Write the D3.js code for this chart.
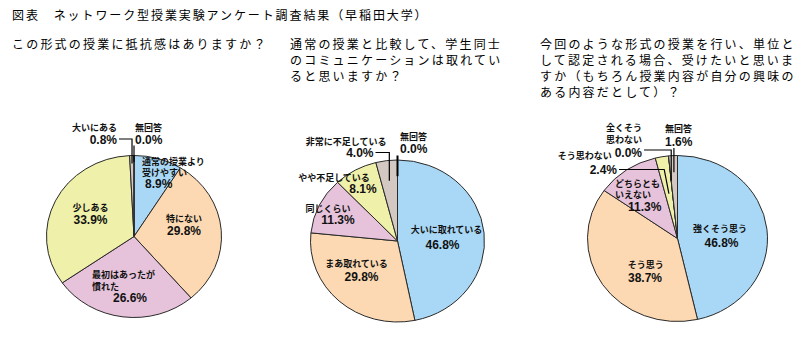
<!DOCTYPE html>
<html><head><meta charset="utf-8">
<script src="https://cdn.jsdelivr.net/npm/d3@7"></script>
<style>
html,body{margin:0;padding:0;background:#fff;}
svg{display:block;}
.jp{font-family:"Noto Sans CJK JP","Noto Sans",sans-serif;}
</style>
</head><body>
<svg id="chart" width="807" height="339"></svg>
<script>
// ---- data ----
const titleText = "図表　ネットワーク型授業実験アンケート調査結果（早稲田大学）";
const questions = [
  ["この形式の授業に抵抗感はありますか？"],
  ["通常の授業と比較して、学生同士", "のコミュニケーションは取れてい", "ると思いますか？"],
  ["今回のような形式の授業を行い、単位と", "して認定される場合、受けたいと思いま", "すか（もちろん授業内容が自分の興味の", "ある内容だとして）？"]
];
const pie1Categories = ["通常の授業より\n受けやすい", "特にない", "最初はあったが\n慣れた", "少しある", "大いにある", "無回答"];
const pie1Values = [8.9, 29.8, 26.6, 33.9, 0.8, 0.0];
const pie2Categories = ["大いに取れている", "まあ取れている", "同じくらい", "やや不足している", "非常に不足している", "無回答"];
const pie2Values = [46.8, 29.8, 11.3, 8.1, 4.0, 0.0];
const pie3Categories = ["強くそう思う", "そう思う", "どちらとも\nいえない", "そう思わない", "全くそう\n思わない", "無回答"];
const pie3Values = [46.8, 38.7, 11.3, 2.4, 0.0, 1.6];

// ---- styles / layout ----
const sliceColors = ["#a9d8f6", "#fcd9b2", "#e6c3da", "#eff0a9", "#d3c9c2", "#d3c9c2"];
const pies = [
  {cats: pie1Categories, vals: pie1Values, cx: 134, cy: 236.5, rx: 87.5, ry: 81,
   labels: [
     {x: 8, y: -72, a: "start", lh: 11, px: 11, py: -49, pa: "start"},
     {x: 50, y: -14.5, a: "middle", lh: 11, px: 50, py: -2, pa: "middle"},
     {x: -42, y: 41, a: "start", lh: 12, px: -21, py: 65.5, pa: "start"},
     {x: -43.5, y: -25.5, a: "middle", lh: 11, px: -43.5, py: -12.5, pa: "middle"},
     {x: -17, y: -106, a: "end", lh: 11, px: -17, py: -93, pa: "end", leader: "elbow", ly: -97.5, r1: 0.9},
     {x: 1, y: -106, a: "start", lh: 11, px: 1, py: -93, pa: "start", leader: "vert", ly: -91, r1: 0.92}
   ]},
  {cats: pie2Categories, vals: pie2Values, cx: 397.5, cy: 241, rx: 87, ry: 81,
   labels: [
     {x: 49, y: -8, a: "middle", lh: 11, px: 45, py: 7.5, pa: "middle"},
     {x: -41, y: 25.5, a: "middle", lh: 11, px: -36, py: 39.5, pa: "middle"},
     {x: -69.5, y: -29.5, a: "middle", lh: 11, px: -59.5, py: -17.5, pa: "middle"},
     {x: -63.5, y: -60, a: "middle", lh: 11, px: -34.5, py: -48.5, pa: "middle"},
     {x: -11, y: -96.5, a: "end", lh: 11, px: -24, py: -84.5, pa: "end", leader: "elbow", ly: -88.5, r1: 0.75},
     {x: 2.5, y: -101.5, a: "start", lh: 11, px: 2.5, py: -88, pa: "start", leader: "vert", ly: -85.5, r1: 0.8, thick: true}
   ]},
  {cats: pie3Categories, vals: pie3Values, cx: 677.5, cy: 238.5, rx: 90, ry: 83,
   labels: [
     {x: 42.5, y: -7, a: "middle", lh: 11, px: 44, py: 8.5, pa: "middle"},
     {x: -31.7, y: 29.5, a: "middle", lh: 11, px: -32.5, py: 43.5, pa: "middle"},
     {x: -62.5, y: -52, a: "start", lh: 11.6, px: -49.5, py: -28, pa: "start"},
     {x: -65.8, y: -79.5, a: "end", lh: 11, px: -60.5, py: -65, pa: "end", leader: "bend", ly: -69, r0: 0.85, r1: 0.55},
     {x: -35.5, y: -107.5, a: "end", lh: 12, px: -35.5, py: -82, pa: "end", leader: "elbow", ly: -88.5, r1: 0.7},
     {x: -12.5, y: -107, a: "start", lh: 11, px: -12.5, py: -93, pa: "start", leader: "vert", ly: -90.5, r1: 0.8}
   ]}
];
const questionX = [12, 290, 540];

const svg = d3.select("#chart");

// title
svg.append("text").attr("class", "jp").attr("x", 12).attr("y", 19.5)
  .attr("font-size", 12).attr("letter-spacing", 1.9).attr("fill", "#000").text(titleText);

// questions
questions.forEach((lines, i) => {
  lines.forEach((ln, j) => {
    svg.append("text").attr("class", "jp").attr("font-size", 12)
      .attr("letter-spacing", 2.2).attr("fill", "#000")
      .attr("x", questionX[i]).attr("y", 48.5 + j * 16).text(ln);
  });
});

const fmt = d3.format(".1f");

pies.forEach(p => {
  const pieGen = d3.pie().sort(null).value(d => d)(p.vals);
  const arc = d3.arc().innerRadius(0).outerRadius(p.rx);
  const k = p.ry / p.rx;
  const g = svg.append("g").attr("transform", `translate(${p.cx},${p.cy})`);
  const pg = g.append("g").attr("transform", `scale(1,${k})`);
  pg.selectAll("path").data(pieGen).join("path")
    .attr("d", arc)
    .attr("fill", (d, i) => sliceColors[i])
    .attr("stroke", "#2a2a2a").attr("stroke-width", 1)
    .attr("vector-effect", "non-scaling-stroke");

  const slicePt = (d, f) => {
    const a = (d.startAngle + d.endAngle) / 2;
    return [Math.sin(a) * p.rx * f, -Math.cos(a) * p.ry * f];
  };

  pieGen.forEach((d, i) => {
    const L = p.labels[i];
    if (L.leader) {
      const end = slicePt(d, L.r1);
      let pts;
      if (L.leader === "elbow") {
        const sx = L.pa === "end" ? L.px + 2 : L.px - 2;
        pts = [[sx, L.ly], [end[0], L.ly], end];
      } else if (L.leader === "vert") {
        pts = [[end[0], L.ly], end];
      } else {
        const mid = slicePt(d, L.r0);
        pts = [[L.px + 2, L.ly], [mid[0], L.ly], end];
      }
      g.append("path").attr("d", d3.line()(pts)).attr("fill", "none")
        .attr("stroke", "#000").attr("stroke-width", L.thick ? 2 : 1.2);
    }
    const lines = p.cats[i].split("\n");
    const t = g.append("text").attr("class", "jp").attr("font-size", 9)
      .attr("font-weight", "bold").attr("fill", "#111").attr("text-anchor", L.a);
    lines.forEach((ln, j) => {
      t.append("tspan").attr("x", L.x).attr("y", L.y + j * L.lh).text(ln);
    });
    g.append("text").attr("x", L.px).attr("y", L.py).attr("text-anchor", L.pa)
      .attr("font-family", "'Liberation Sans', Arial, sans-serif")
      .attr("font-size", 12).attr("font-weight", "bold").attr("fill", "#111")
      .text(fmt(d.data) + "%");
  });
});
</script>
</body></html>
